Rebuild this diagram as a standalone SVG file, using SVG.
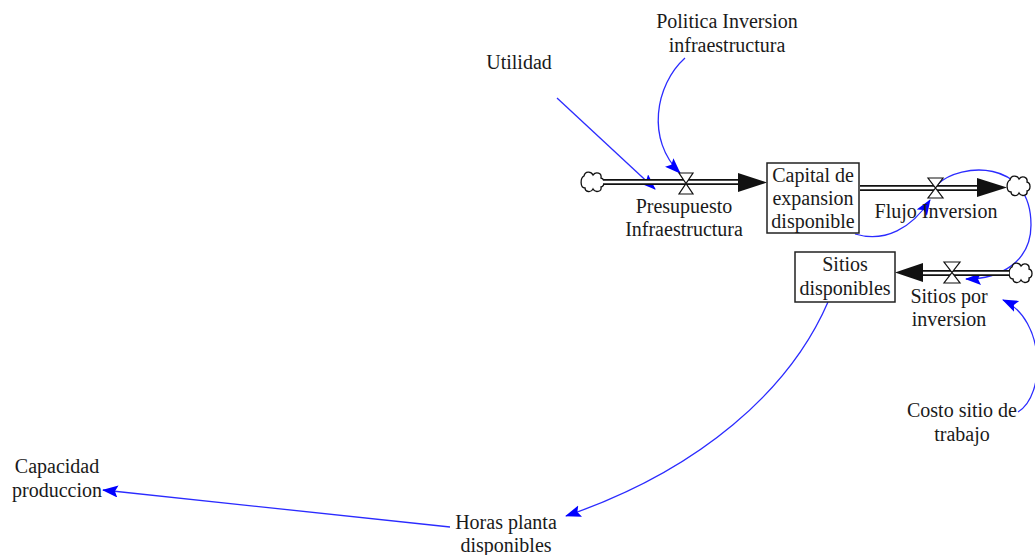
<svg xmlns="http://www.w3.org/2000/svg" width="1035" height="555" viewBox="0 0 1035 555">
<style>
text{font-family:"Liberation Serif","Times New Roman",serif;font-size:20px;fill:#1a1a1a;text-anchor:middle}
.box{fill:#fff;stroke:#222;stroke-width:1.5}
.pipeO{stroke:#111;stroke-width:6;fill:none}
.pipeI{stroke:#fff;stroke-width:2.5;fill:none}
.valve{fill:#fff;stroke:#111;stroke-width:1.2}
.cloud{fill:#fff;stroke:#111;stroke-width:1.3}
.link{fill:none;stroke:#2b2bff;stroke-width:1.3}
.head{fill:#111}
</style>
<defs>
<marker id="ah" markerUnits="userSpaceOnUse" markerWidth="18" markerHeight="14" refX="15" refY="6" orient="auto">
<path d="M0,0 L16,6 L0,12 L3,6 Z" fill="#0000ff"/>
</marker>
<path id="cloudShape" d="M-8,-6 C-7,-11 -1,-11 1,-7 C4,-11 10,-9 9,-4 C13,-3 13,4 9,5 C10,10 3,11 1,7 C-1,11 -7,10 -7,6 C-12,6 -12,-4 -8,-6 Z"/>
</defs>

<g id="connectors">
<path class="link" d="M557,98 L655,189" marker-end="url(#ah)"/>
<path class="link" d="M685,58 C655,85 646,140 680,173" marker-end="url(#ah)"/>
<path class="link" d="M855,234 C885,243 912,228 930,200" marker-end="url(#ah)"/>
<path class="link" d="M938,184 C960,163 1031,158 1031,225 C1031,262 1000,279 966,279" marker-end="url(#ah)"/>
<path class="link" d="M1018,412 C1046,395 1046,320 1003,300" marker-end="url(#ah)"/>
<path class="link" d="M828,302 C790,390 700,470 566,516" marker-end="url(#ah)"/>
<path class="link" d="M450,527 L103,490" marker-end="url(#ah)"/>
</g>

<g id="flow-presupuesto">
<use href="#cloudShape" class="cloud" transform="translate(592,182)"/>
<path class="pipeO" d="M603,182 H742"/>
<path class="pipeI" d="M603,182 H742"/>
<polygon class="head" points="738,173 767,182.5 738,192"/>
<path class="valve" d="M679,173 L693,173 L679,194 L693,194 Z"/>
<text x="684" y="213">Presupuesto</text>
<text x="684" y="236">Infraestructura</text>
</g>

<g id="flow-flujo">
<path class="pipeO" d="M860,188 H980"/>
<path class="pipeI" d="M860,188 H980"/>
<polygon class="head" points="977,178 1007,187.5 977,197"/>
<path class="valve" d="M928,178 L943,178 L928,198 L943,198 Z"/>
<use href="#cloudShape" class="cloud" transform="translate(1018,186)"/>
<text x="936" y="218">Flujo Inversion</text>
</g>

<g id="flow-sitios">
<use href="#cloudShape" class="cloud" transform="translate(1020,273)"/>
<path class="pipeO" d="M1009,273 H920"/>
<path class="pipeI" d="M1009,273 H920"/>
<polygon class="head" points="923,263 895,272.5 923,282"/>
<path class="valve" d="M944,262 L960,262 L944,283 L960,283 Z"/>
<text x="949" y="303">Sitios por</text>
<text x="949" y="326">inversion</text>
</g>

<g id="capital">
<rect class="box" x="767" y="163" width="92" height="70"/>
<text x="813" y="182">Capital de</text>
<text x="813" y="205">expansion</text>
<text x="813" y="228">disponible</text>
</g>

<g id="sitios-disponibles">
<rect class="box" x="795" y="252" width="100" height="50"/>
<text x="845" y="271">Sitios</text>
<text x="845" y="295">disponibles</text>
</g>

<g id="politica">
<text x="727" y="28">Politica Inversion</text>
<text x="727" y="52">infraestructura</text>
</g>

<g id="utilidad">
<text x="519" y="69">Utilidad</text>
</g>

<g id="costo">
<text x="962" y="417">Costo sitio de</text>
<text x="962" y="441">trabajo</text>
</g>

<g id="capacidad">
<text x="57" y="473">Capacidad</text>
<text x="57" y="497">produccion</text>
</g>

<g id="horas">
<text x="506" y="529">Horas planta</text>
<text x="506" y="552">disponibles</text>
</g>
</svg>
